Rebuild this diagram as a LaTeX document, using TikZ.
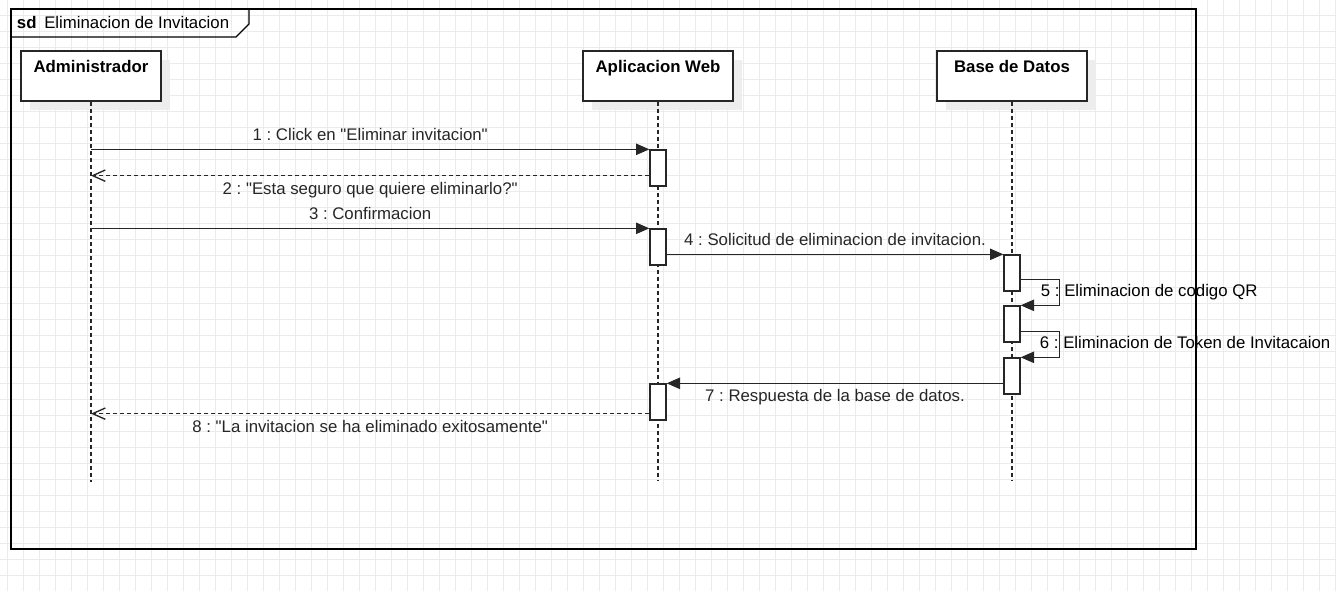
\documentclass[tikz,border=0pt]{standalone}
\usepackage{fontspec}
\setmainfont{Liberation Sans}[Ligatures=TeXOff]
\usetikzlibrary{arrows.meta,shadows,calc}
\frenchspacing
\colorlet{lnx}{black!85}
\colorlet{gdx}{black!8}
\colorlet{shx}{black!7}
\tikzset{
  headbox/.style={draw=lnx,line width=1pt,fill=white,minimum height=37.5pt,inner sep=0pt,
    general shadow={fill=shx,shadow xshift=6.75pt,shadow yshift=-6.75pt}},
  actbox/.style={draw=lnx,line width=1pt,fill=white,minimum width=12pt,minimum height=27pt,inner sep=0pt},
  lifeline/.style={lnx,line width=1pt,dash pattern=on 3pt off 2.25pt},
  callmsg/.style={lnx,line width=1pt,-{Triangle[length=10pt,width=8.5pt]}},
  backmsg/.style={lnx,line width=1pt,dash pattern=on 3pt off 2.25pt,-{Straight Barb[length=9.5pt,width=8.5pt]}},
  msgtext/.style={anchor=base,inner sep=0pt},
}

\begin{document}
\begin{tikzpicture}[x=0.75pt,y=-0.75pt,font=\fontsize{12.6pt}{15pt}\selectfont]
    \useasboundingbox (0,0) rectangle (1336,591);
    % grid
    \foreach \gx in {0,...,83} \draw [gdx,line width=0.75pt] ({7.5+16*\gx},0) -- ++(0,591);
    \foreach \gy in {1,...,36} \draw [gdx,line width=0.75pt] (0,{-0.5+16*\gy}) -- ++(1336,0);

    % frame
    \draw [black,line width=1pt] (11,9) rectangle (1196,549);
    \draw [black,line width=1pt] (11,37) -- (236,37) -- (249,24) -- (249,9);
    \node [anchor=base west,inner sep=0pt] (sdtag) at (16.7,28.3) {\textbf{sd}};
    \node [anchor=base west,inner sep=0pt] (sdname) at (44,28.3) {Eliminacion de Invitacion};

    % heads
    \node [headbox,minimum width=105pt] (admin) at (91,76) {};
    \node [headbox,minimum width=112.5pt] (web) at (658,76) {};
    \node [headbox,minimum width=112.5pt] (db) at (1012,76) {};
    \node [msgtext] (admintxt) at ($(admin.north)+(0,22.3)$) {\textbf{Administrador}};
    \node [msgtext] (webtxt) at ($(web.north)+(0,22.3)$) {\textbf{Aplicacion Web}};
    \node [msgtext] (dbtxt) at ($(db.north)+(0,22.3)$) {\textbf{Base de Datos}};

    \draw [lifeline] (admin.south) -- ++(0,380);
    \draw [lifeline] (web.south) -- ++(0,379);
    \draw [lifeline] (db.south) -- ++(0,379);

    % activations
    \node [actbox] (w1) at (658,168) {};
    \node [actbox] (w2) at (658,247) {};
    \node [actbox] (w3) at (658,402) {};
    \node [actbox] (d1) at (1012,273) {};
    \node [actbox] (d2) at (1012,324) {};
    \node [actbox] (d3) at (1012,376) {};

    \coordinate (r1) at ($(w1.south west)+(0,-11)$);
    \coordinate (r2) at ($(w3.south west)+(0,-7)$);
    \coordinate (s1) at ($(d1.south east)+(0,-12)$);
    \coordinate (s2) at ($(d2.south east)+(0,-11)$);

    % messages
    \draw [callmsg] (admin |- w1.north) -- (w1.north west)
        node [msgtext,midway,yshift=6.5pt] {1 : Click en "Eliminar invitacion"};
    \draw [backmsg] (r1) -- (admin |- r1)
        node [msgtext,midway,yshift=-14pt] {2 : "Esta seguro que quiere eliminarlo?"};
    \draw [callmsg] (admin |- w2.north) -- (w2.north west)
        node [msgtext,midway,yshift=6.5pt] {3 : Confirmacion};
    \draw [callmsg] (w2.east |- d1.north) -- (d1.north west)
        node [msgtext,midway,yshift=6.5pt] {4 : Solicitud de eliminacion de invitacion.};
    \draw [callmsg] (s1) -- ++(39,0) |- (d2.north east);
    \node [msgtext,anchor=base west] (m5) at ($(s1)+(20,16.7)$) {5 : Eliminacion de codigo QR};
    \draw [callmsg] (s2) -- ++(39,0) |- (d3.north east);
    \node [msgtext,anchor=base west] (m6) at ($(s2)+(19,17)$) {6 : Eliminacion de Token de Invitacaion};
    \draw [callmsg] (d3.west |- w3.north) -- (w3.north east)
        node [msgtext,midway,yshift=-14pt] {7 : Respuesta de la base de datos.};
    \draw [backmsg] (r2) -- (admin |- r2)
        node [msgtext,midway,yshift=-14pt] {8 : "La invitacion se ha eliminado exitosamente"};
\end{tikzpicture}
\end{document}
